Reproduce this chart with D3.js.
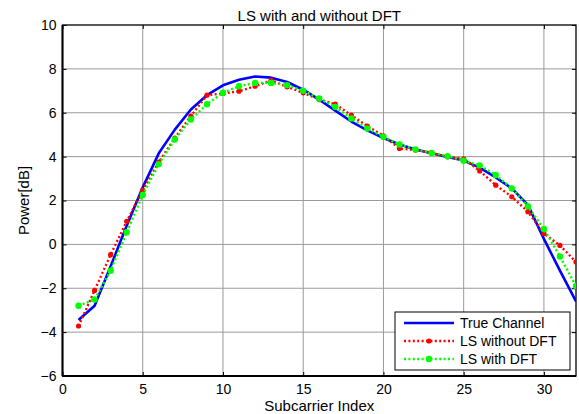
<!DOCTYPE html>
<html>
<head>
<meta charset="utf-8">
<script src="https://cdn.jsdelivr.net/npm/d3@7"></script>
<style>
  html, body { margin: 0; padding: 0; background: #fff; }
  svg { display: block; font-family: "Liberation Sans", Arial, sans-serif; }
</style>
</head>
<body>
<svg id="chart" width="579" height="414"></svg>
<script>
const subcarriers = [1,2,3,4,5,6,7,8,9,10,11,12,13,14,15,16,17,18,19,20,21,22,23,24,25,26,27,28,29,30,31,32];
const trueChannel = [-3.45,-2.8,-1.0,0.85,2.6,4.15,5.23,6.15,6.8,7.25,7.5,7.65,7.6,7.4,7.05,6.6,6.1,5.6,5.2,4.85,4.55,4.32,4.15,3.98,3.82,3.5,3.05,2.55,1.8,0.25,-1.2,-2.6];
const lsWithoutDFT = [-3.72,-2.1,-0.47,1.05,2.47,3.75,4.85,5.85,6.8,6.88,6.98,7.21,7.48,7.18,6.91,6.6,6.39,5.89,5.39,4.95,4.37,4.3,4.18,3.99,3.9,3.35,2.7,2.17,1.49,0.5,-0.05,-0.8];
const lsWithDFT = [-2.8,-2.51,-1.2,0.55,2.25,3.66,4.78,5.69,6.39,6.91,7.21,7.36,7.36,7.26,7.0,6.65,6.27,5.74,5.28,4.9,4.55,4.33,4.17,4.02,3.81,3.6,3.16,2.55,1.74,0.7,-0.55,-1.9];
const xTicks = [0,5,10,15,20,25,30];
const yTicks = [-6,-4,-2,0,2,4,6,8,10];
const seriesNames = ["True Channel","LS without DFT","LS with DFT"];
const title = "LS with and without DFT";
const xLabel = "Subcarrier Index";
const yLabel = "Power[dB]";

const svg = d3.select("#chart");
const L = 62.5, R = 576, T = 25, B = 376;
const x = d3.scaleLinear().domain([0,32]).range([L,R]);
const y = d3.scaleLinear().domain([-6,10]).range([B,T]);

svg.append("rect").attr("x",L).attr("y",T).attr("width",R-L).attr("height",B-T).attr("fill","#fff");

// grid
const grid = svg.append("g");
grid.selectAll("line.gx").data(xTicks.filter(d=>d>0)).enter().append("line")
  .attr("x1",d=>x(d)).attr("x2",d=>x(d)).attr("y1",T).attr("y2",B)
  .attr("stroke","#9a9a9a").attr("stroke-width",1);
grid.selectAll("line.gy").data(yTicks.filter(d=>d>-6 && d<10)).enter().append("line")
  .attr("y1",d=>y(d)).attr("y2",d=>y(d)).attr("x1",L).attr("x2",R)
  .attr("stroke","#9a9a9a").attr("stroke-width",1);

// axes
const xAxis = d3.axisBottom(x).tickValues(xTicks).tickSize(-4).tickPadding(8);
const yAxis = d3.axisLeft(y).tickValues(yTicks).tickSize(-4).tickPadding(6);
const gx = svg.append("g").attr("transform",`translate(0,${B})`).call(xAxis);
const gy = svg.append("g").attr("transform",`translate(${L},0)`).call(yAxis);
[gx,gy].forEach(g=>{
  g.select(".domain").remove();
  g.selectAll("line").attr("stroke","#000");
  g.selectAll("text").attr("font-size","14px").attr("fill","#000")
   .attr("font-family","'Liberation Sans', Arial, sans-serif");
});
svg.append("g").attr("transform",`translate(0,${T})`).call(d3.axisTop(x).tickValues(xTicks).tickSize(-4).tickFormat(""))
  .call(g=>{g.select(".domain").remove(); g.selectAll("line").attr("stroke","#000");});
svg.append("g").attr("transform",`translate(${R},0)`).call(d3.axisRight(y).tickValues(yTicks).tickSize(-4).tickFormat(""))
  .call(g=>{g.select(".domain").remove(); g.selectAll("line").attr("stroke","#000");});

// box
svg.append("rect").attr("x",L).attr("y",T).attr("width",R-L).attr("height",B-T)
  .attr("fill","none").attr("stroke","#000").attr("stroke-width",1.3);
svg.append("line").attr("x1",L).attr("x2",L).attr("y1",T).attr("y2",B).attr("stroke","#000").attr("stroke-width",2);
svg.append("line").attr("x1",L).attr("x2",R).attr("y1",B).attr("y2",B).attr("stroke","#000").attr("stroke-width",2);

// lines
const mk = vals => d3.line().x((d,i)=>x(subcarriers[i])).y(d=>y(d))(vals);
svg.append("defs").append("clipPath").attr("id","clip")
  .append("rect").attr("x",L).attr("y",T).attr("width",R-L).attr("height",B-T);
const plot = svg.append("g").attr("clip-path","url(#clip)");

plot.append("path").attr("d",mk(trueChannel)).attr("fill","none")
  .attr("stroke","#0000ff").attr("stroke-width",2.6).attr("stroke-linejoin","round");

plot.append("path").attr("d",mk(lsWithoutDFT)).attr("fill","none")
  .attr("stroke","#ff0000").attr("stroke-width",2.4).attr("stroke-dasharray","2,2.4");
plot.selectAll("circle.r").data(lsWithoutDFT).enter().append("circle")
  .attr("cx",(d,i)=>x(subcarriers[i])).attr("cy",d=>y(d)).attr("r",2.6).attr("fill","#ff0000");

plot.append("path").attr("d",mk(lsWithDFT)).attr("fill","none")
  .attr("stroke","#00ff00").attr("stroke-width",2.4).attr("stroke-dasharray","2,2.4");
plot.selectAll("circle.g").data(lsWithDFT).enter().append("circle")
  .attr("cx",(d,i)=>x(subcarriers[i])).attr("cy",d=>y(d)).attr("r",3.2).attr("fill","#00ff00");

// title and labels
svg.append("text").attr("x",(L+R)/2).attr("y",21).attr("text-anchor","middle")
  .attr("font-size","15px").attr("fill","#000").text(title);
svg.append("text").attr("x",(L+R)/2).attr("y",411).attr("text-anchor","middle")
  .attr("font-size","15px").attr("fill","#000").text(xLabel);
svg.append("text").attr("transform",`translate(29,${(T+B)/2}) rotate(-90)`).attr("text-anchor","middle")
  .attr("font-size","15px").attr("fill","#000").text(yLabel);

// legend
const lg = svg.append("g");
lg.append("rect").attr("x",395).attr("y",312).attr("width",175).attr("height",58)
  .attr("fill","#fff").attr("stroke","#000").attr("stroke-width",1);
const styles = [
  {c:"#0000ff", dash:null, w:2.6, r:0},
  {c:"#ff0000", dash:"2,2.4", w:2.4, r:2.6},
  {c:"#00ff00", dash:"2,2.4", w:2.4, r:3.2}
];
const rowY = [323,341,359];
seriesNames.forEach((n,i)=>{
  const s = styles[i];
  const ln = lg.append("line").attr("x1",404).attr("x2",454).attr("y1",rowY[i]).attr("y2",rowY[i])
    .attr("stroke",s.c).attr("stroke-width",s.w);
  if (s.dash) ln.attr("stroke-dasharray",s.dash);
  if (s.r) lg.append("circle").attr("cx",429).attr("cy",rowY[i]).attr("r",s.r).attr("fill",s.c);
  lg.append("text").attr("x",460).attr("y",rowY[i]+5).attr("font-size","14px").attr("fill","#000").text(n);
});
</script>
</body>
</html>
